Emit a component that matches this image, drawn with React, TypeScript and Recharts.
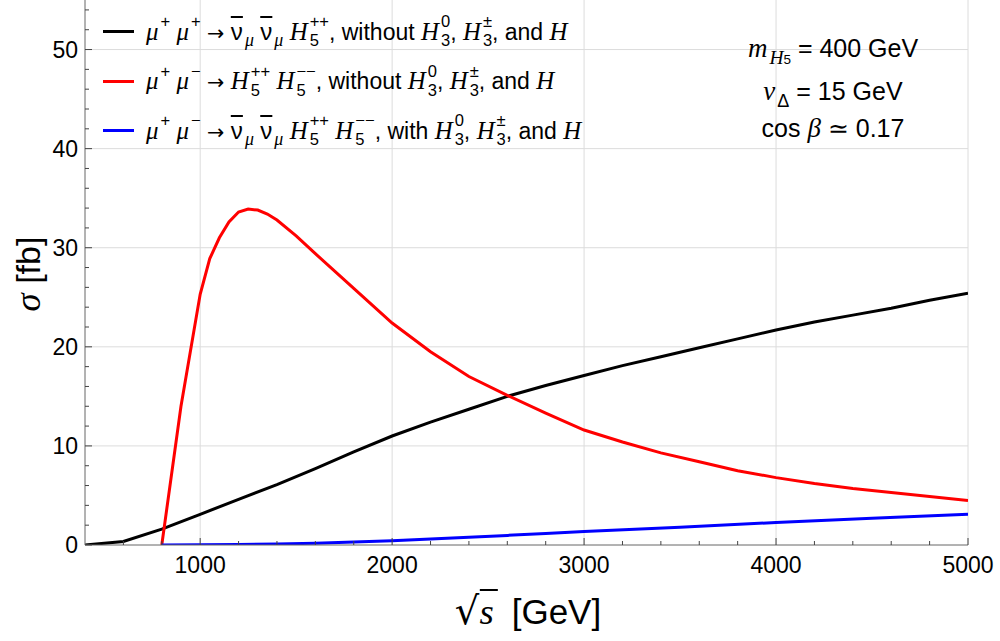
import { CartesianGrid, Line, LineChart, XAxis, YAxis } from 'recharts'

// sqrt(s) in GeV, sigma in fb
const blackS = [400, 600, 800, 1000, 1200, 1400, 1600, 1800, 2000, 2200, 2400, 2600, 2800, 3000, 3200, 3400, 3600, 3800, 4000, 4200, 4400, 4600, 4800, 5000]
const blackSigma = [0, 0.35, 1.6, 3.1, 4.6, 6.1, 7.7, 9.4, 11.0, 12.4, 13.7, 15.0, 16.1, 17.1, 18.1, 19.0, 19.9, 20.8, 21.7, 22.5, 23.2, 23.9, 24.7, 25.4]

const redS = [800, 900, 1000, 1050, 1100, 1150, 1200, 1250, 1300, 1350, 1400, 1500, 1600, 1800, 2000, 2200, 2400, 2600, 2800, 3000, 3200, 3400, 3600, 3800, 4000, 4200, 4400, 4600, 4800, 5000]
const redSigma = [0, 14.0, 25.3, 28.9, 31.0, 32.6, 33.6, 33.9, 33.8, 33.4, 32.8, 31.2, 29.4, 25.9, 22.4, 19.5, 17.0, 15.1, 13.3, 11.6, 10.4, 9.3, 8.4, 7.5, 6.8, 6.2, 5.7, 5.3, 4.9, 4.5]

const blueS = [800, 1000, 1200, 1400, 1600, 1800, 2000, 2200, 2400, 2600, 2800, 3000, 3500, 4000, 4500, 5000]
const blueSigma = [0, 0.02, 0.05, 0.1, 0.18, 0.3, 0.44, 0.6, 0.78, 0.97, 1.17, 1.37, 1.8, 2.27, 2.7, 3.1]

const xTicks = [600, 800, 1000, 1200, 1400, 1600, 1800, 2000, 2200, 2400, 2600, 2800, 3000, 3200, 3400, 3600, 3800, 4000, 4200, 4400, 4600, 4800, 5000]
const yTicks = [0, 2, 4, 6, 8, 10, 12, 14, 16, 18, 20, 22, 24, 26, 28, 30, 32, 34, 36, 38, 40, 42, 44, 46, 48, 50, 52, 54]
const xGrid = [1000, 2000, 3000, 4000, 5000]
const yGrid = [10, 20, 30, 40, 50]

const toPoints = (xs: number[], ys: number[]) => xs.map((x, i) => ({ x, y: ys[i] }))

const SANS = '"Liberation Sans", Arial, sans-serif'
const SERIF = '"Liberation Serif", "Times New Roman", serif'
const TICK_COLOR = '#444'

function BottomTick({ x, y, payload }: any) {
  const major = payload.value % 1000 === 0
  return (
    <g>
      <line x1={x} x2={x} y1={y} y2={y - (major ? 7 : 4)} stroke={TICK_COLOR} />
      {major && (
        <text x={x} y={y + 28} textAnchor="middle" fontSize={23} fontFamily={SANS} fill="#000">
          {payload.value}
        </text>
      )}
    </g>
  )
}

function TopTick({ x, y, payload }: any) {
  const major = payload.value % 1000 === 0
  return <line x1={x} x2={x} y1={y} y2={y + (major ? 7 : 4)} stroke={TICK_COLOR} />
}

function LeftTick({ x, y, payload }: any) {
  const major = payload.value % 10 === 0
  return (
    <g>
      <line x1={x} x2={x + (major ? 7 : 4)} y1={y} y2={y} stroke={TICK_COLOR} />
      {major && (
        <text x={x - 7} y={y + 8} textAnchor="end" fontSize={23} fontFamily={SANS} fill="#000">
          {payload.value}
        </text>
      )}
    </g>
  )
}

function RightTick({ x, y, payload }: any) {
  const major = payload.value % 10 === 0
  return <line x1={x} x2={x - (major ? 7 : 4)} y1={y} y2={y} stroke={TICK_COLOR} />
}

// math helpers
const I = ({ children }: any) => (
  <span style={{ fontFamily: SERIF, fontStyle: 'italic', fontSize: '1.08em' }}>{children}</span>
)

// stacked superscript / subscript that doesn't disturb the line box
function Scr({ sup, sub }: { sup?: string; sub?: any }) {
  const longest = (sup || '').length >= (typeof sub === 'string' ? sub.length : 1) ? sup : sub
  return (
    <span style={{ position: 'relative', display: 'inline-block', fontSize: '0.72em', lineHeight: 0, fontFamily: SANS, fontStyle: 'normal', marginLeft: 2 }}>
      <span style={{ visibility: 'hidden' }}>{longest}</span>
      {sup && <span style={{ position: 'absolute', left: 0, top: '-0.75em' }}>{sup}</span>}
      {sub && <span style={{ position: 'absolute', left: 0, top: '0.42em' }}>{sub}</span>}
    </span>
  )
}

const Arrow = () => <span style={{ fontFamily: '"DejaVu Sans", sans-serif', fontSize: '0.9em' }}>→</span>

const Nubar = () => (
  <>
    <span style={{ textDecoration: 'overline', fontFamily: SANS, fontSize: '1.05em' }}>ν</span>
    <Scr sub={<I>μ</I>} />
  </>
)

const MuP = () => (<><I>μ</I><Scr sup="+" /></>)
const MuM = () => (<><I>μ</I><Scr sup="−" /></>)
const H5pp = () => (<><I>H</I><Scr sup="++" sub="5" /></>)
const H5mm = () => (<><I>H</I><Scr sup="−−" sub="5" /></>)
const Tail = ({ w }: { w: string }) => (
  <>, {w} <I>H</I><Scr sup="0" sub="3" />, <I>H</I><Scr sup="±" sub="3" />, and <I>H</I></>
)

const legendRows = [
  {
    color: '#000000',
    label: (<><MuP /> <MuP /> <Arrow /> <Nubar /> <Nubar /> <H5pp /><Tail w="without" /></>),
  },
  {
    color: '#ff0000',
    label: (<><MuP /> <MuM /> <Arrow /> <H5pp /> <H5mm /><Tail w="without" /></>),
  },
  {
    color: '#0000ff',
    label: (<><MuP /> <MuM /> <Arrow /> <Nubar /> <Nubar /> <H5pp /> <H5mm /><Tail w="with" /></>),
  },
]

export default function App() {
  return (
    <div style={{ position: 'absolute', left: 0, top: 0, width: 1000, height: 641, background: '#fff', fontFamily: SANS }}>
      <LineChart width={1000} height={641} margin={{ top: 0, right: 32, bottom: 0, left: 0 }}>
        <CartesianGrid
          stroke="#dcdcdc"
          horizontalValues={yGrid}
          verticalValues={xGrid}
        />
        <XAxis
          dataKey="x"
          type="number"
          domain={[400, 5000]}
          ticks={xTicks}
          interval={0}
          height={96}
          tickSize={0}
          tickMargin={0}
          tickLine={false}
          axisLine={{ stroke: '#666' }}
          tick={<BottomTick />}
          allowDataOverflow
        />
        <XAxis
          xAxisId="top"
          orientation="top"
          dataKey="x"
          type="number"
          domain={[400, 5000]}
          ticks={xTicks}
          interval={0}
          height={0}
          tickSize={0}
          tickMargin={0}
          tickLine={false}
          axisLine={{ stroke: '#666' }}
          tick={<TopTick />}
          allowDataOverflow
        />
        <YAxis
          type="number"
          domain={[0, 55]}
          ticks={yTicks}
          interval={0}
          width={85}
          tickSize={0}
          tickMargin={0}
          tickLine={false}
          axisLine={{ stroke: '#666' }}
          tick={<LeftTick />}
          allowDataOverflow
        />
        <YAxis
          yAxisId="right"
          orientation="right"
          type="number"
          domain={[0, 55]}
          ticks={yTicks}
          interval={0}
          width={0}
          tickSize={0}
          tickMargin={0}
          tickLine={false}
          axisLine={{ stroke: '#333' }}
          tick={<RightTick />}
          allowDataOverflow
        />
        <Line data={toPoints(blackS, blackSigma)} dataKey="y" type="linear" stroke="#000000" strokeWidth={3} dot={false} isAnimationActive={false} />
        <Line data={toPoints(redS, redSigma)} dataKey="y" type="linear" stroke="#ff0000" strokeWidth={3} dot={false} isAnimationActive={false} />
        <Line data={toPoints(blueS, blueSigma)} dataKey="y" type="linear" stroke="#0000ff" strokeWidth={3} dot={false} isAnimationActive={false} />
      </LineChart>

      {/* legend */}
      {legendRows.map((row, i) => (
        <div key={i}>
          <div style={{ position: 'absolute', left: 103, top: 30.2 + i * 49.5, width: 31, height: 3, background: row.color }} />
          <div style={{ position: 'absolute', left: 146, top: 17.5 + i * 49.5, fontSize: 23, lineHeight: '27px', whiteSpace: 'nowrap', color: '#000' }}>
            {row.label}
          </div>
        </div>
      ))}

      {/* parameter box */}
      <div style={{ position: 'absolute', left: 683, top: 33.5, width: 300, textAlign: 'center', fontSize: 25, lineHeight: '29px', whiteSpace: 'nowrap' }}>
        <I>m</I><Scr sub={<><I>H</I><span style={{ fontSize: '0.75em' }}>5</span></>} /> = 400 GeV
      </div>
      <div style={{ position: 'absolute', left: 683, top: 76.8, width: 300, textAlign: 'center', fontSize: 25, lineHeight: '29px', whiteSpace: 'nowrap' }}>
        <I>v</I><Scr sub="Δ" /> = 15 GeV
      </div>
      <div style={{ position: 'absolute', left: 683, top: 113.5, width: 300, textAlign: 'center', fontSize: 25, lineHeight: '29px', whiteSpace: 'nowrap' }}>
        cos <I>β</I> ≃ 0.17
      </div>

      {/* axis titles */}
      <div style={{ position: 'absolute', left: 28, top: 274, transform: 'translate(-50%, -50%) rotate(-90deg)', fontSize: 34, lineHeight: '38px', whiteSpace: 'nowrap' }}>
        <I>σ</I> [fb]
      </div>
      <div style={{ position: 'absolute', left: 528, top: 591, transform: 'translateX(-50%)', fontSize: 35, lineHeight: '40px', whiteSpace: 'nowrap' }}>
        <span style={{ fontFamily: '"DejaVu Sans"', fontSize: '1.1em' }}>√</span>
        <span style={{ borderTop: '2px solid #000', fontFamily: SERIF, fontStyle: 'italic', fontSize: '1.05em', paddingRight: 4 }}>s</span>
        <span style={{ marginLeft: 14 }}>[GeV]</span>
      </div>
    </div>
  )
}
